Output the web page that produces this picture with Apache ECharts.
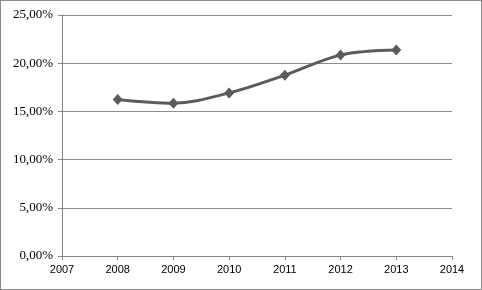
<!DOCTYPE html>
<html>
<head>
<meta charset="utf-8">
<script src="https://cdn.jsdelivr.net/npm/echarts@6/dist/echarts.min.js"></script>
<style>
  html, body { margin: 0; padding: 0; background: #fff; }
  #chart { width: 482px; height: 290px; box-sizing: border-box; border: 1px solid #8a8a8a; }
</style>
</head>
<body>
<div id="chart"></div>
<script>
// values
const years = [2008, 2009, 2010, 2011, 2012, 2013];
const rates = [16.24, 15.85, 16.92, 18.76, 20.84, 21.36]; // percent

const myChart = echarts.init(document.getElementById('chart'));

const seriesData = [];
for (let i = 0; i < years.length; i++) {
  seriesData.push([years[i], rates[i]]);
}

const option = {
  animation: false,
  backgroundColor: '#fff',
  grid: { left: 61, right: 29, top: 14, bottom: 33 },
  xAxis: {
    type: 'value',
    min: 2007,
    max: 2014,
    interval: 1,
    axisLine: { show: true, lineStyle: { color: '#868686', width: 1 } },
    axisTick: { show: true, length: 4, lineStyle: { color: '#868686' } },
    splitLine: { show: false },
    axisLabel: {
      margin: 8,
      color: '#000',
      fontFamily: 'Liberation Sans',
      fontSize: 11,
      formatter: v => String(v)
    }
  },
  yAxis: {
    type: 'value',
    min: 0,
    max: 25,
    interval: 5,
    axisLine: { show: true, lineStyle: { color: '#868686', width: 1 } },
    axisTick: { show: true, length: 4, lineStyle: { color: '#868686' } },
    splitLine: { show: true, lineStyle: { color: '#8c8c8c', width: 1 } },
    axisLabel: {
      margin: 9,
      color: '#000',
      fontFamily: 'Liberation Serif',
      fontSize: 13,
      formatter: v => v.toFixed(2).replace('.', ',') + '%'
    }
  },
  series: [{
    type: 'line',
    data: seriesData,
    smooth: 0.35,
    symbol: 'diamond',
    symbolSize: [10, 11],
    lineStyle: { color: '#5b5b5b', width: 3 },
    itemStyle: { color: '#5b5b5b' }
  }]
};

myChart.setOption(option);
</script>
</body>
</html>
